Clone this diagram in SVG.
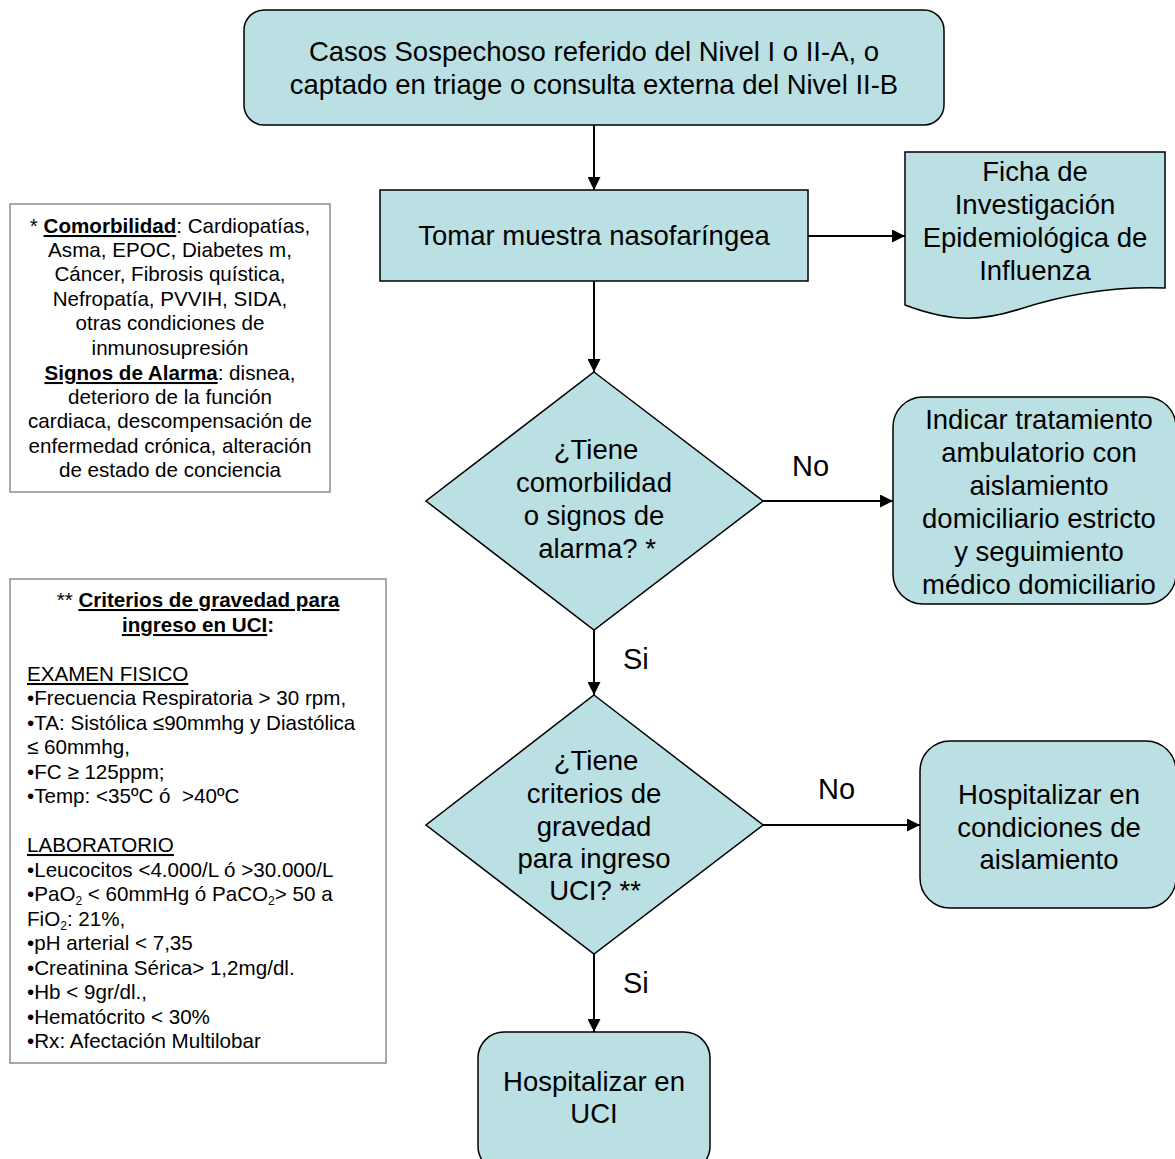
<svg xmlns="http://www.w3.org/2000/svg" width="1175" height="1159" viewBox="0 0 1175 1159">
  <style>
    .box { fill: #bae0e4; stroke: #000; stroke-width: 1.5; }
    .note { fill: #fff; stroke: #8c8c8c; stroke-width: 1.5; }
    .t { font-family: "Liberation Sans", Arial, sans-serif; font-size: 27.5px; fill: #000; text-anchor: middle; }
    .lbl { font-family: "Liberation Sans", Arial, sans-serif; font-size: 29px; fill: #000; }
    .n { font-family: "Liberation Sans", Arial, sans-serif; font-size: 20.6px; fill: #000; }
    .c { text-anchor: middle; }
    .b { font-weight: bold; text-decoration: underline; }
    .u { text-decoration: underline; }
    .sub { font-size: 12px; }
    .wire { stroke: #000; stroke-width: 2; fill: none; marker-end: url(#arrow); }
  </style>
  <defs>
    <marker id="arrow" viewBox="0 0 10 10" refX="10" refY="5" markerWidth="13" markerHeight="13" markerUnits="userSpaceOnUse" orient="auto">
      <path d="M0,0 L10,5 L0,10 z" fill="#000"/>
    </marker>
  </defs>

  <rect width="1175" height="1159" fill="#fff"/>

  <!-- connectors -->
  <g id="connectors">
    <line class="wire" x1="594" y1="125" x2="594" y2="190"/>
    <line class="wire" x1="808" y1="236" x2="905" y2="236"/>
    <line class="wire" x1="594" y1="281" x2="594" y2="372"/>
    <line class="wire" x1="763" y1="501" x2="893" y2="501"/>
    <line class="wire" x1="594" y1="630" x2="594" y2="695"/>
    <line class="wire" x1="763" y1="825" x2="920" y2="825"/>
    <line class="wire" x1="594" y1="954" x2="594" y2="1032"/>
    <text class="lbl" x="792" y="476">No</text>
    <text class="lbl" x="623" y="669">Si</text>
    <text class="lbl" x="818" y="799">No</text>
    <text class="lbl" x="623" y="993">Si</text>
  </g>

  <!-- start -->
  <g id="inicio">
    <rect class="box" x="244" y="10" width="700" height="115" rx="20"/>
    <text class="t" x="594" y="61">Casos Sospechoso referido del Nivel I o II-A, o</text>
    <text class="t" x="594" y="94">captado en triage o consulta externa del Nivel II-B</text>
  </g>

  <g id="muestra">
    <rect class="box" x="380" y="190" width="428" height="91"/>
    <text class="t" x="594" y="245">Tomar muestra nasofaríngea</text>
  </g>

  <g id="ficha">
    <path class="box" d="M905,152 H1165 V288 C1110,286 1060,296 1020,309 C985,320 955,324 905,305 Z"/>
    <text class="t" x="1035" y="181">Ficha de</text>
    <text class="t" x="1035" y="214">Investigación</text>
    <text class="t" x="1035" y="247">Epidemiológica de</text>
    <text class="t" x="1035" y="280">Influenza</text>
  </g>

  <g id="decision-comorbilidad">
    <polygon class="box" points="594,372 763,501 594,630 426,501"/>
    <text class="t" x="596" y="459">¿Tiene</text>
    <text class="t" x="594" y="492">comorbilidad</text>
    <text class="t" x="594" y="525">o signos de</text>
    <text class="t" x="597" y="558">alarma? *</text>
  </g>

  <g id="ambulatorio">
    <rect class="box" x="893" y="397" width="283" height="207" rx="30"/>
    <text class="t" x="1039" y="429">Indicar tratamiento</text>
    <text class="t" x="1039" y="462">ambulatorio con</text>
    <text class="t" x="1039" y="495">aislamiento</text>
    <text class="t" x="1039" y="528">domiciliario estricto</text>
    <text class="t" x="1039" y="561">y seguimiento</text>
    <text class="t" x="1039" y="594">médico domiciliario</text>
  </g>

  <g id="decision-gravedad">
    <polygon class="box" points="594,695 763,825 594,954 426,825"/>
    <text class="t" x="596" y="770">¿Tiene</text>
    <text class="t" x="594" y="803">criterios de</text>
    <text class="t" x="594" y="836">gravedad</text>
    <text class="t" x="594" y="868">para ingreso</text>
    <text class="t" x="595" y="900">UCI? **</text>
  </g>

  <g id="aislamiento">
    <rect class="box" x="920" y="741" width="256" height="167" rx="30"/>
    <text class="t" x="1049" y="804">Hospitalizar en</text>
    <text class="t" x="1049" y="837">condiciones de</text>
    <text class="t" x="1049" y="869">aislamiento</text>
  </g>

  <g id="uci">
    <rect class="box" x="478" y="1032" width="232" height="140" rx="26"/>
    <text class="t" x="594" y="1091">Hospitalizar en</text>
    <text class="t" x="594" y="1123">UCI</text>
  </g>

  <!-- footnote: comorbidity and warning signs -->
  <g id="nota-comorbilidad">
    <rect class="note" x="10" y="204" width="320" height="288"/>
    <text class="n c" x="170" y="233">* <tspan class="b">Comorbilidad</tspan>: Cardiopatías,</text>
    <text class="n c" x="170" y="257">Asma, EPOC, Diabetes m,</text>
    <text class="n c" x="170" y="281">Cáncer, Fibrosis quística,</text>
    <text class="n c" x="170" y="306">Nefropatía, PVVIH, SIDA,</text>
    <text class="n c" x="170" y="330">otras condiciones de</text>
    <text class="n c" x="170" y="355">inmunosupresión</text>
    <text class="n c" x="170" y="380"><tspan class="b">Signos de Alarma</tspan>: disnea,</text>
    <text class="n c" x="170" y="404">deterioro de la función</text>
    <text class="n c" x="170" y="428">cardiaca, descompensación de</text>
    <text class="n c" x="170" y="453">enfermedad crónica, alteración</text>
    <text class="n c" x="170" y="477">de estado de conciencia</text>
  </g>

  <!-- footnote: ICU admission criteria -->
  <g id="nota-criterios">
    <rect class="note" x="10" y="579" width="376" height="484"/>
    <text class="n c" x="198" y="607">** <tspan class="b">Criterios de gravedad para</tspan></text>
    <text class="n c" x="198" y="632"><tspan class="b">ingreso en UCI</tspan><tspan font-weight="bold">:</tspan></text>
    <text class="n u" x="27" y="681">EXAMEN FISICO</text>
    <text class="n" x="27" y="705">•Frecuencia Respiratoria &gt; 30 rpm,</text>
    <text class="n" x="27" y="730">•TA: Sistólica ≤90mmhg y Diastólica</text>
    <text class="n" x="27" y="754">≤ 60mmhg,</text>
    <text class="n" x="27" y="779">•FC ≥ 125ppm;</text>
    <text class="n" x="27" y="803" style="white-space:pre">•Temp: &lt;35ºC ó  &gt;40ºC</text>
    <text class="n u" x="27" y="852">LABORATORIO</text>
    <text class="n" x="27" y="877">•Leucocitos &lt;4.000/L ó &gt;30.000/L</text>
    <text class="n" x="27" y="901">•PaO<tspan class="sub" dy="4">2</tspan><tspan dy="-4"> &lt; 60mmHg ó PaCO</tspan><tspan class="sub" dy="4">2</tspan><tspan dy="-4">&gt; 50 a</tspan></text>
    <text class="n" x="27" y="926">FiO<tspan class="sub" dy="4">2</tspan><tspan dy="-4">: 21%,</tspan></text>
    <text class="n" x="27" y="950">•pH arterial &lt; 7,35</text>
    <text class="n" x="27" y="975">•Creatinina Sérica&gt; 1,2mg/dl.</text>
    <text class="n" x="27" y="999">•Hb &lt; 9gr/dl.,</text>
    <text class="n" x="27" y="1024">•Hematócrito &lt; 30%</text>
    <text class="n" x="27" y="1048">•Rx: Afectación Multilobar</text>
  </g>
</svg>
